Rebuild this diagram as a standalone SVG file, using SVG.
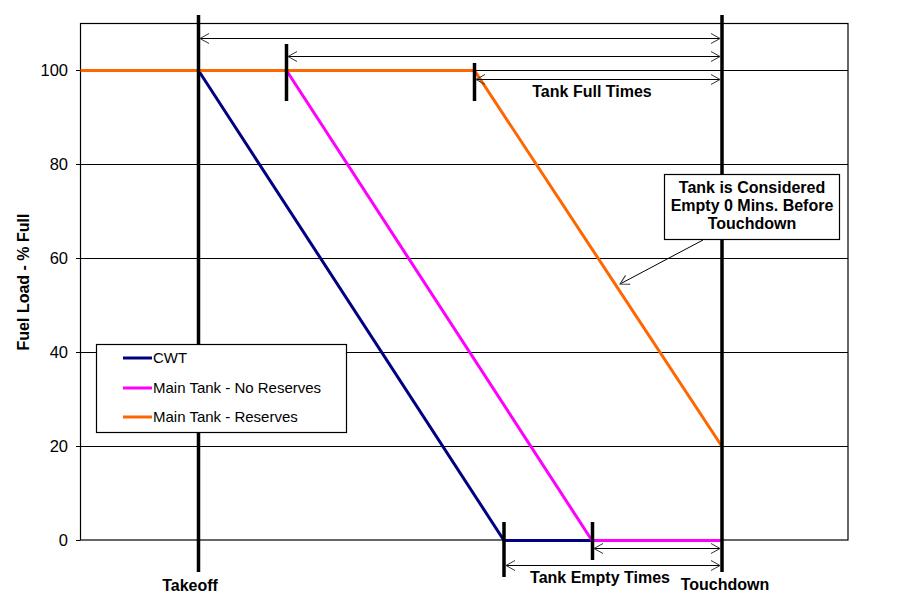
<svg xmlns="http://www.w3.org/2000/svg" width="901" height="614" viewBox="0 0 901 614">
<style>
.grid{stroke:#000;stroke-width:1.2;fill:none}
.bar{stroke:#000;stroke-width:3.5}
.dim{stroke:#000;stroke-width:1.2;marker-start:url(#ah);marker-end:url(#ah)}
.tick{font-family:"Liberation Sans",Arial,sans-serif;font-size:16.5px;fill:#000;text-anchor:end}
.lbl{font-family:"Liberation Sans",Arial,sans-serif;font-size:16px;font-weight:bold;fill:#000;text-anchor:middle}
.leg{font-family:"Liberation Sans",Arial,sans-serif;font-size:15px;fill:#000}
.s{fill:none;stroke-width:3;stroke-linejoin:miter}
</style>
<defs>
<marker id="ah" viewBox="-10 -6 12 12" refX="0" refY="0" markerWidth="12" markerHeight="12" markerUnits="userSpaceOnUse" orient="auto-start-reverse">
<path d="M-9,-5 L0,0 L-9,5" fill="none" stroke="#333" stroke-width="1"/>
</marker>
<marker id="ah2" viewBox="-10 -6 12 12" refX="0" refY="0" markerWidth="12" markerHeight="12" markerUnits="userSpaceOnUse" orient="auto">
<path d="M-9,-5 L0,0 L-9,5" fill="none" stroke="#333" stroke-width="1"/>
</marker>
</defs>
<rect width="901" height="614" fill="#fff"/>
<g id="axes">
<rect x="80.5" y="23.5" width="767.5" height="516.5" class="grid"/>
<path class="grid" d="M80.5,70.5H848M80.5,164.5H848M80.5,258.5H848M80.5,352.5H848M80.5,446.5H848M76,70.5H80.5M76,164.5H80.5M76,258.5H80.5M76,352.5H80.5M76,446.5H80.5M76,540.5H80.5"/>
<text class="tick" x="68" y="76">100</text>
<text class="tick" x="68" y="170">80</text>
<text class="tick" x="68" y="264">60</text>
<text class="tick" x="68" y="358">40</text>
<text class="tick" x="68" y="452">20</text>
<text class="tick" x="68" y="546">0</text>
<text class="lbl" transform="translate(29,282) rotate(-90)">Fuel Load - % Full</text>
</g>
<g id="series">
<polyline id="cwt" class="s" stroke="#000080" points="198.5,70.5 504,540.5 592,540.5"/>
<polyline id="main-no-res" class="s" stroke="#FF00FF" points="286.5,70.5 592,540.5 722,540.5"/>
<polyline id="main-res" class="s" stroke="#FF6600" points="80.5,70.5 474.5,70.5 722,446.5"/>
</g>
<g id="markers">
<line id="takeoff-bar" class="bar" x1="198.5" y1="15" x2="198.5" y2="572"/>
<line id="touchdown-bar" class="bar" x1="722" y1="15" x2="722" y2="572"/>
<line class="bar" x1="286.5" y1="44" x2="286.5" y2="101"/>
<line class="bar" x1="474.5" y1="63" x2="474.5" y2="101"/>
<line class="bar" x1="504" y1="522" x2="504" y2="577"/>
<line class="bar" x1="592.5" y1="522" x2="592.5" y2="560"/>
</g>
<g id="connectors">
<line class="dim" x1="200" y1="38.5" x2="720" y2="38.5"/>
<line class="dim" x1="288" y1="56.5" x2="720" y2="56.5"/>
<line class="dim" x1="476" y1="79.5" x2="720" y2="79.5"/>
<line class="dim" x1="594" y1="548.5" x2="720" y2="548.5"/>
<line class="dim" x1="506" y1="565.5" x2="720" y2="565.5"/>
<line x1="703" y1="240" x2="620" y2="284" stroke="#000" stroke-width="1" marker-end="url(#ah2)"/>
</g>
<g id="labels">
<text class="lbl" x="592" y="97">Tank Full Times</text>
<text class="lbl" x="600" y="583">Tank Empty Times</text>
<text class="lbl" x="190" y="591">Takeoff</text>
<text class="lbl" x="725" y="590">Touchdown</text>
</g>
<g id="legend">
<rect x="96.5" y="344.5" width="250" height="88" fill="#fff" stroke="#000" stroke-width="1.2"/>
<line x1="123" y1="358" x2="152" y2="358" stroke="#000080" stroke-width="3"/>
<line x1="123" y1="388" x2="152" y2="388" stroke="#FF00FF" stroke-width="3"/>
<line x1="123" y1="417" x2="152" y2="417" stroke="#FF6600" stroke-width="3"/>
<text class="leg" x="153" y="363">CWT</text>
<text class="leg" x="153" y="393">Main Tank - No Reserves</text>
<text class="leg" x="153" y="422">Main Tank - Reserves</text>
</g>
<g id="note">
<rect x="664.5" y="174.5" width="175" height="65" fill="#fff" stroke="#000" stroke-width="1.2"/>
<text class="lbl" x="752" y="193">Tank is Considered</text>
<text class="lbl" x="752" y="211">Empty 0 Mins. Before</text>
<text class="lbl" x="752" y="229">Touchdown</text>
</g>
</svg>
